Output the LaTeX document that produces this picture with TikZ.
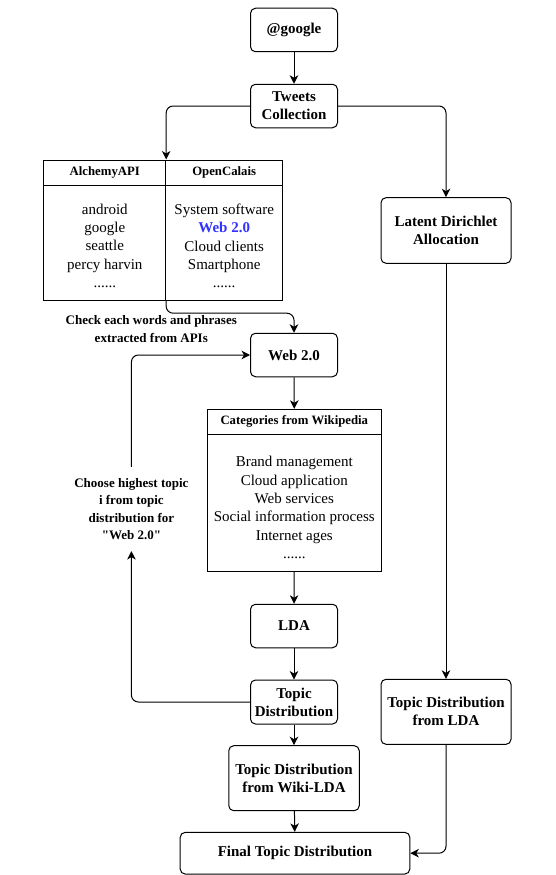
\documentclass[tikz,border=0pt]{standalone}
\usepackage{fontspec}
\setmainfont{Liberation Serif}
\usetikzlibrary{arrows.meta}
\definecolor{webblue}{RGB}{51,51,255}
\tikzset{
	box/.style={draw, line width=1pt, rounded corners=5pt, align=center, inner sep=0pt, font=\bfseries\fontsize{15}{18}\selectfont},
	smallbox/.style={box, minimum width=87pt, minimum height=43.5pt},
	bigbox/.style={box, minimum width=130pt, minimum height=65pt},
	cellhead/.style={draw, line width=1pt, inner sep=0pt, minimum height=25pt, font=\bfseries\fontsize{12.75}{15}\selectfont},
	cellbody/.style={draw, line width=1pt, inner sep=0pt},
	celltext/.style={anchor=north, align=center, inner sep=0pt, font=\fontsize{15}{18.4}\selectfont},
	note/.style={align=center, inner sep=0pt, font=\bfseries\fontsize{13}{17.5}\selectfont},
	flow/.style={line width=1pt, rounded corners=7pt, -{Stealth[length=8.5pt,width=8.5pt,inset=2.5pt]}},
}
\begin{document}
\begin{tikzpicture}[x=1pt, y=-1pt]
	\useasboundingbox (0,0) rectangle (555,875);
%	\coordinate (    ) at (x px, y px from top);
	\coordinate (c-google) at (294, 30);
	\coordinate (c-tweets) at (294, 106);
	\coordinate (c-lda1) at (446, 230.5);
	\coordinate (c-web) at (294, 355);
	\coordinate (c-lda) at (294, 626);
	\coordinate (c-td) at (294, 702);
	\coordinate (c-tdl) at (446, 711.8);
	\coordinate (c-wiki) at (294, 778.2);
	\coordinate (c-final) at (295, 853.2);

	\node[smallbox] (google) at (c-google) {@google};
	\node[smallbox] (tweets) at (c-tweets) {Tweets\\Collection};
	\node[bigbox, minimum height=65.6pt] (lda1) at (c-lda1) {Latent Dirichlet\\Allocation};

	\node[cellhead, minimum width=121.7pt] (alchH) at (104.8, 172.5) {AlchemyAPI};
	\node[cellhead, minimum width=117pt] (openH) at (224.2, 172.5) {OpenCalais};
	\node[cellbody, minimum width=121.7pt, minimum height=115pt] (alchB) at (104.8, 242.5) {};
	\node[cellbody, minimum width=117pt, minimum height=115pt] (openB) at (224.2, 242.5) {};
	\node[celltext] (alchT) at (104.8, 203.5) {android\\google\\seattle\\percy harvin\\......};
	\node[celltext] (openT) at (224.2, 203.5) {System software\\{\bfseries\color{webblue}Web 2.0}\\Cloud clients\\Smartphone\\......};

	\node[note] (check) at (151.3, 329) {Check each words and phrases\\extracted from APIs};
	\node[smallbox] (web) at (c-web) {Web 2.0};

	\node[cellhead, minimum width=173.8pt] (catH) at (294.3, 421.8) {Categories from Wikipedia};
	\node[cellbody, minimum width=173.8pt, minimum height=137.4pt] (catB) at (294.3, 503) {};
	\node[celltext] (catT) at (294.3, 456) {Brand management\\Cloud application\\Web services\\Social information process\\Internet ages\\......};

	\node[note, inner ysep=11pt] (choose) at (131.4, 509) {Choose highest topic\\i from topic\\distribution for\\\textquotedbl Web 2.0\textquotedbl};

	\node[smallbox] (lda) at (c-lda) {LDA};
	\node[smallbox, minimum height=44pt] (td) at (c-td) {Topic\\Distribution};
	\node[bigbox] (tdl) at (c-tdl) {Topic Distribution\\from LDA};
	\node[bigbox, minimum width=130.5pt] (wiki) at (c-wiki) {Topic Distribution\\from Wiki-LDA};
	\node[box, minimum width=229.6pt, minimum height=41.7pt] (final) at (c-final) {Final Topic Distribution};

	\draw[flow] (google) -- (tweets);
	\draw[flow] (tweets.west) -| (alchH.north east);
	\draw[flow] (tweets.east) -| (lda1.north);
	\draw[flow] (alchB.south east) -- ++(0,12.7) -| (web.north);
	\draw[flow] (web) -- (catH);
	\draw[flow] (catB) -- (lda);
	\draw[flow] (lda) -- (td);
	\draw[flow] (td.west) -| (choose.south);
	\draw[flow] (choose.north) |- (web.west);
	\draw[flow] (td) -- (wiki);
	\draw[flow] (wiki) -- (final);
	\draw[flow] (lda1) -- (tdl);
	\draw[flow] (tdl.south) |- (final.east);
\end{tikzpicture}
\end{document}
